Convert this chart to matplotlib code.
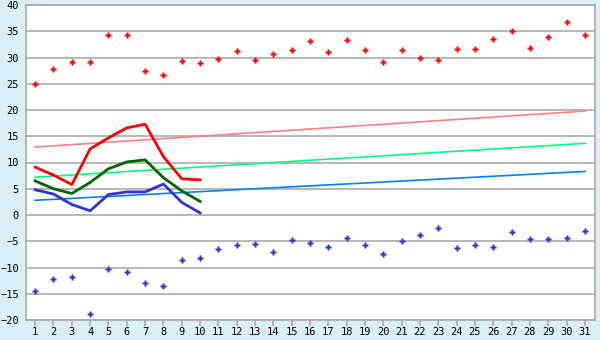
import matplotlib
matplotlib.use("Agg")
import matplotlib.pyplot as plt

days = list(range(1, 32))

# daily extremes (points)
max_pts = [24.9, 27.9, 29.1, 29.1, 34.2, 34.2, 27.4, 26.6, 29.3, 28.9,
           29.7, 31.2, 29.5, 30.6, 31.4, 33.1, 31.0, 33.3, 31.4, 29.1,
           31.4, 30.0, 29.5, 31.7, 31.6, 33.5, 35.0, 31.9, 34.0, 36.7, 34.2]
min_pts = [-14.5, -12.1, -11.9, -18.9, -10.3, -10.9, -13.0, -13.6, -8.6, -8.1,
           -6.5, -5.8, -5.6, -7.1, -4.8, -5.4, -6.0, -4.4, -5.8, -7.5,
           -5.0, -3.9, -2.5, -6.2, -5.8, -6.0, -3.3, -4.6, -4.6, -4.4, -3.1]

# current month lines (days 1-10)
line_days = list(range(1, 11))
tmax = [9.1, 7.6, 5.8, 12.6, 14.7, 16.6, 17.3, 11.1, 6.9, 6.7]
tavg = [6.5, 5.0, 4.1, 6.2, 8.8, 10.1, 10.5, 7.1, 4.6, 2.6]
tmin = [4.8, 4.0, 2.0, 0.8, 3.9, 4.4, 4.4, 5.9, 2.4, 0.4]

# normal trend lines (first and last day)
trend_days = [1, 31]
norm_max = [12.95, 19.8]
norm_avg = [7.2, 13.65]
norm_min = [2.8, 8.3]

bg = "#d9eef5"
fig = plt.figure(figsize=(6, 3.4), dpi=100, facecolor=bg)
ax = fig.add_axes([26/600, 20/340, 569/600, 315/340])
ax.set_facecolor("white")

ax.plot(trend_days, norm_max, color="#ff8080", lw=1.2)
ax.plot(trend_days, norm_avg, color="#00ff80", lw=1.2)
ax.plot(trend_days, norm_min, color="#0080ff", lw=1.2)

ax.plot(line_days, tmax, color="#ff0000", lw=2)
ax.plot(line_days, tavg, color="#006400", lw=2)
ax.plot(line_days, tmin, color="#3333cc", lw=2)

ax.plot(days, max_pts, ls="none", marker="P", ms=5, color="#ff0000", mec="none")
ax.plot(days, min_pts, ls="none", marker="P", ms=5, color="#3333cc", mec="none")

ax.set_xlim(0.5, 31.55)
ax.set_ylim(-20, 40)
ax.set_yticks(range(-20, 41, 5))
ax.set_xticks(days)
ax.yaxis.grid(True, color="#aaaaaa", lw=1.2)
ax.set_axisbelow(True)
for s in ax.spines.values():
    s.set_color("#aaaaaa")
    s.set_linewidth(1.2)
ax.tick_params(axis="x", colors="#aaaaaa", length=4, width=1.2, labelcolor="black",
               labelsize=7.5, pad=1)
ax.tick_params(axis="y", length=0, labelsize=7.5, pad=5)
for lab in ax.get_xticklabels() + ax.get_yticklabels():
    lab.set_family("DejaVu Sans Mono")

fig.savefig("out.png", dpi=100, facecolor=bg)
